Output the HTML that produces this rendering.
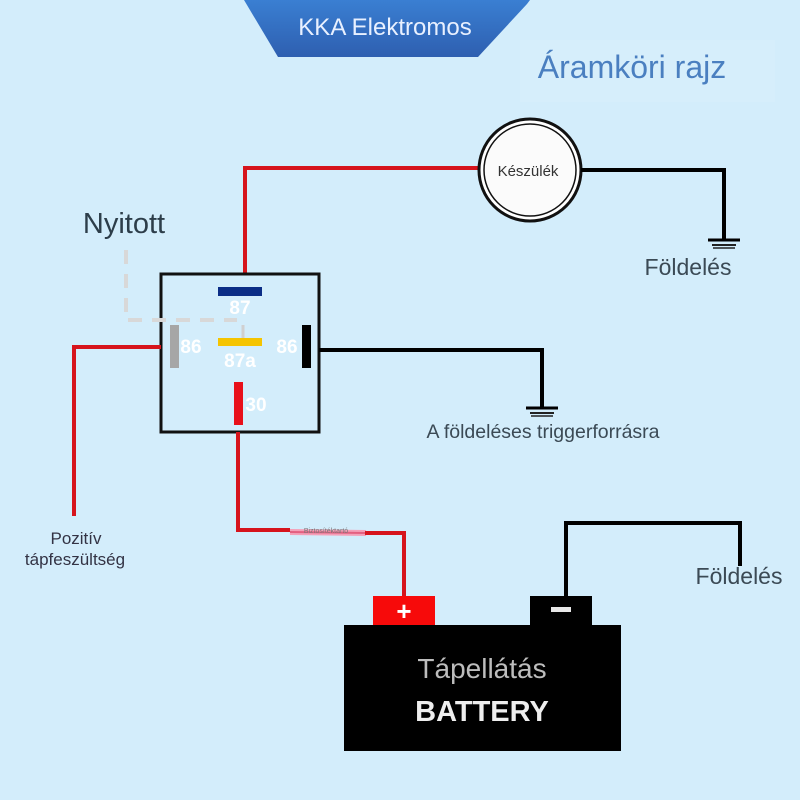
<!DOCTYPE html>
<html><head><meta charset="utf-8"><style>
html,body{margin:0;padding:0;background:#d3edfb;}
svg{display:block;}
text{font-family:"Liberation Sans","DejaVu Sans",sans-serif;}
</style></head><body>
<svg width="800" height="800" viewBox="0 0 800 800" xmlns="http://www.w3.org/2000/svg">
<defs>
<linearGradient id="bn" x1="0" y1="0" x2="0" y2="1">
<stop offset="0" stop-color="#3a7fd2"/><stop offset="1" stop-color="#2e5fb0"/></linearGradient>
</defs>
<rect width="800" height="800" fill="#d3edfb"/>
<rect x="520" y="40" width="255" height="62" fill="#d6eefb"/>
<!-- banner -->
<path d="M244 0 L530 0 L527 4 L478 57 L278 57 Z" fill="url(#bn)"/>
<text x="385" y="35" font-size="24" fill="#e8f0ff" text-anchor="middle">KKA Elektromos</text>
<text x="632" y="78" font-size="32" fill="#4a7fc0" text-anchor="middle">Áramköri rajz</text>

<!-- red wire to device -->
<polyline points="478,168 245,168 245,273" fill="none" stroke="#d6141c" stroke-width="4"/>
<!-- device -->
<circle cx="530" cy="170" r="51" fill="#fff" stroke="#111" stroke-width="3"/>
<circle cx="530" cy="170" r="46" fill="#fbfbfb" stroke="#111" stroke-width="1.5"/>
<text x="528" y="176" font-size="15" fill="#333" text-anchor="middle">Készülék</text>
<polyline points="581,170 724,170 724,240" fill="none" stroke="#000" stroke-width="4"/>
<line x1="708" y1="240" x2="740" y2="240" stroke="#000" stroke-width="3"/>
<line x1="712" y1="245" x2="736" y2="245" stroke="#222" stroke-width="2"/>
<line x1="713" y1="248" x2="735" y2="248" stroke="#222" stroke-width="1.5"/>
<text x="688" y="275" font-size="23" fill="#3b4a55" text-anchor="middle">Földelés</text>

<text x="124" y="233" font-size="29" fill="#2d3e4a" text-anchor="middle">Nyitott</text>

<!-- relay -->
<rect x="161" y="274" width="158" height="158" fill="none" stroke="#111" stroke-width="3"/>
<polyline points="126,250 126,320 237,320" fill="none" stroke="#d8d8d8" stroke-width="4" stroke-dasharray="14,10"/>
<line x1="243" y1="325" x2="243" y2="340" stroke="#d0d0d0" stroke-width="3"/>
<rect x="218" y="287" width="44" height="9" fill="#0b2d86"/>
<text x="240" y="314" font-size="19" fill="#fff" text-anchor="middle" font-weight="bold">87</text>
<rect x="170" y="325" width="9" height="43" fill="#a6a6a6"/>
<text x="191" y="353" font-size="19" fill="#fff" text-anchor="middle" font-weight="bold">86</text>
<rect x="218" y="338" width="44" height="8" fill="#f5c400"/>
<text x="240" y="367" font-size="19" fill="#fff" text-anchor="middle" font-weight="bold">87a</text>
<rect x="302" y="325" width="9" height="43" fill="#000"/>
<text x="287" y="353" font-size="19" fill="#fff" text-anchor="middle" font-weight="bold">86</text>
<rect x="234" y="382" width="9" height="43" fill="#e8101a"/>
<text x="256" y="411" font-size="19" fill="#fff" text-anchor="middle" font-weight="bold">30</text>

<!-- left red wire -->
<polyline points="161,347 74,347 74,516" fill="none" stroke="#d6141c" stroke-width="4"/>
<text x="76" y="544" font-size="17" fill="#334" text-anchor="middle">Pozitív</text>
<text x="75" y="565" font-size="17" fill="#334" text-anchor="middle">tápfeszültség</text>

<!-- right black wire -->
<polyline points="319,350 542,350 542,408" fill="none" stroke="#000" stroke-width="4"/>
<line x1="526" y1="408" x2="558" y2="408" stroke="#000" stroke-width="3"/>
<line x1="530" y1="413" x2="554" y2="413" stroke="#222" stroke-width="2"/>
<line x1="531" y1="416" x2="553" y2="416" stroke="#222" stroke-width="1.5"/>
<text x="543" y="438" font-size="19.5" fill="#3b4a55" text-anchor="middle">A földeléses triggerforrásra</text>

<!-- bottom red wire & fuse -->
<polyline points="238,432 238,530 290,530" fill="none" stroke="#d6141c" stroke-width="4"/>
<line x1="290" y1="532" x2="366" y2="533" stroke="#f4a0b8" stroke-width="6"/>
<line x1="290" y1="532" x2="366" y2="533" stroke="#e36080" stroke-width="2"/>
<text x="326" y="533" font-size="7" fill="#777" text-anchor="middle">Biztosítéktartó</text>
<polyline points="365,533 404,533 404,597" fill="none" stroke="#d6141c" stroke-width="4"/>

<!-- battery -->
<rect x="373" y="596" width="62" height="30" fill="#f70a0a"/>
<text x="404" y="620" font-size="26" fill="#fff" text-anchor="middle" font-weight="bold">+</text>
<rect x="530" y="596" width="62" height="30" fill="#000"/>
<rect x="551" y="607" width="20" height="5" fill="#e8e8e8"/>
<polyline points="566,597 566,523 740,523 740,566" fill="none" stroke="#000" stroke-width="4"/>
<text x="739" y="584" font-size="23" fill="#3b4a55" text-anchor="middle">Földelés</text>
<rect x="344" y="625" width="277" height="126" fill="#000"/>
<text x="482" y="678" font-size="28" fill="#bdbdbd" text-anchor="middle">Tápellátás</text>
<text x="482" y="721" font-size="29" fill="#eeeeee" text-anchor="middle" font-weight="bold">BATTERY</text>
</svg>
</body></html>
